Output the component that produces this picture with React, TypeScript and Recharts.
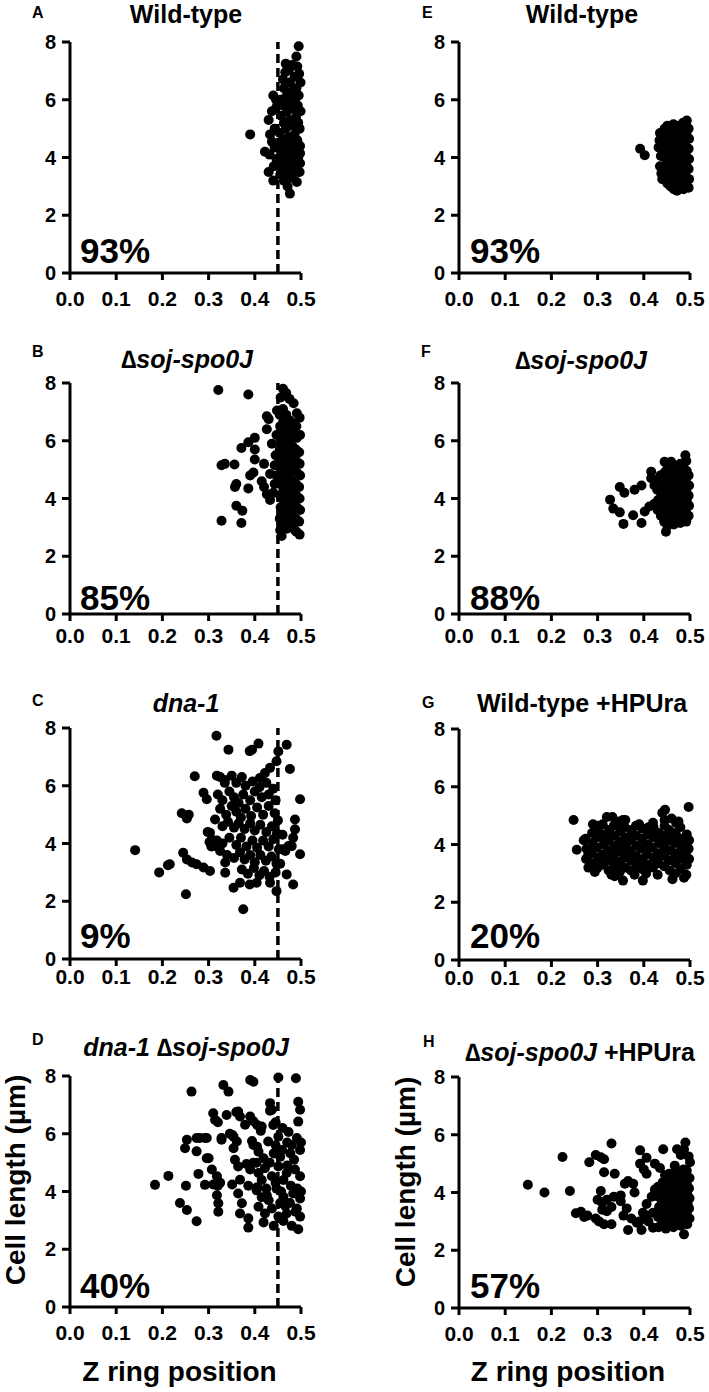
import React from 'react';
import { ScatterChart, Scatter, XAxis, YAxis, ReferenceLine } from 'recharts';

type P = [number, number];

const xTicks = [0, 0.1, 0.2, 0.3, 0.4, 0.5];
const yTicks = [0, 2, 4, 6, 8];
const dashPosition = 0.45;

const panelA: P[] = [
  [0.39,4.8],[0.422,4.2],[0.43,3.5],[0.44,3.2],[0.476,2.75],[0.44,6.15],[0.446,6.0],[0.43,5.3],[0.433,4.8],[0.437,4.55],[0.443,4.35],[0.432,4.1],[0.447,3.95],[0.437,5.6],[0.443,5.0],[0.441,3.7],[0.447,5.75],
  [0.495,7.85],[0.49,7.5],[0.481,7.2],[0.467,7.25],[0.474,7.05],[0.466,6.95],[0.492,7.15],[0.463,6.4],[0.49,6.4],[0.486,6.8],[0.496,6.9],[0.476,6.6],[0.461,6.7],[0.499,6.6],[0.48,6.25],[0.495,6.15],
  [0.463,3.2],[0.491,3.15],[0.497,3.5],[0.471,3.0],[0.48,3.3],[0.455,3.4],
  [0.455,3.75],[0.456,4.3],[0.454,4.85],[0.457,5.45],[0.455,6.0],
  [0.461,3.55],[0.462,4.05],[0.46,4.6],[0.463,5.2],[0.461,5.8],
  [0.468,3.85],[0.469,4.4],[0.467,5.0],[0.47,5.6],[0.468,6.1],[0.469,3.35],
  [0.474,3.6],[0.475,4.15],[0.473,4.7],[0.476,5.3],[0.474,5.9],
  [0.481,3.45],[0.482,3.95],[0.48,4.5],[0.483,5.1],[0.481,5.7],[0.482,6.3],
  [0.487,3.7],[0.488,4.25],[0.486,4.8],[0.489,5.4],[0.487,6.0],
  [0.493,3.5],[0.494,4.0],[0.492,4.6],[0.494,5.2],[0.493,5.8],
  [0.498,3.8],[0.498,4.4],[0.497,5.0],[0.499,5.6],[0.498,4.15],
];

const panelB: P[] = [
  [0.321,7.76],[0.386,7.6],[0.328,3.23],[0.371,3.15],[0.328,5.15],[0.335,5.2],[0.356,5.18],[0.36,4.5],[0.357,4.4],[0.36,3.75],[0.373,3.58],[0.386,4.35],[0.371,5.75],[0.386,5.95],[0.4,6.1],[0.4,5.7],[0.4,5.35],[0.39,4.8],[0.397,4.9],[0.426,6.85],[0.43,6.75],[0.426,6.4],[0.437,5.9],[0.448,7.05],[0.42,5.2],[0.415,4.6],[0.42,4.4],[0.426,4.15],[0.433,3.95],[0.443,5.15],[0.433,4.85],[0.443,4.5],[0.44,4.2],[0.447,4.8],[0.445,5.5],[0.447,6.2],
  [0.455,2.9],[0.454,3.3],[0.456,3.7],[0.455,4.1],[0.454,4.5],[0.456,4.9],[0.455,5.3],[0.454,5.7],[0.456,6.1],[0.455,6.5],[0.454,6.9],[0.456,7.5],
  [0.462,3.1],[0.461,3.5],[0.463,3.9],[0.462,4.3],[0.461,4.7],[0.463,5.1],[0.462,5.5],[0.461,5.9],[0.463,6.3],[0.462,6.7],[0.461,7.1],[0.461,7.8],
  [0.469,2.95],[0.468,3.3],[0.47,3.7],[0.469,4.1],[0.468,4.5],[0.47,4.9],[0.469,5.3],[0.468,5.7],[0.47,6.1],[0.469,6.5],[0.468,6.9],[0.468,7.65],
  [0.476,3.1],[0.475,3.5],[0.477,3.9],[0.476,4.3],[0.475,4.7],[0.477,5.1],[0.476,5.5],[0.475,5.9],[0.477,6.3],[0.476,6.7],[0.475,7.45],
  [0.483,3.0],[0.482,3.4],[0.484,3.8],[0.483,4.2],[0.482,4.6],[0.484,5.0],[0.483,5.4],[0.482,5.8],[0.484,6.2],[0.483,6.6],[0.484,7.3],
  [0.49,2.85],[0.489,3.3],[0.491,3.7],[0.49,4.1],[0.489,4.5],[0.491,4.9],[0.49,5.3],[0.489,5.7],[0.491,6.1],[0.49,6.5],[0.491,6.95],
  [0.497,2.75],[0.496,3.2],[0.498,3.6],[0.497,4.0],[0.496,4.4],[0.498,4.8],[0.497,5.2],[0.496,5.6],[0.498,6.2],[0.497,6.8],
  [0.458,2.7],[0.487,2.9],[0.48,3.15],
];

const panelC: P[] = [
  [0.141,3.77],[0.193,3.0],[0.212,3.25],[0.251,2.24],[0.242,5.05],[0.253,4.87],[0.257,5.0],[0.27,6.33],
  [0.245,3.68],[0.253,3.45],[0.264,3.34],[0.274,3.28],[0.289,3.17],[0.303,3.05],[0.216,3.28],
  [0.317,7.73],[0.343,7.25],[0.389,7.2],[0.394,7.25],[0.408,7.46],[0.469,7.42],[0.451,7.19],[0.447,6.85],[0.476,6.58],[0.498,5.53],
  [0.433,6.62],[0.422,6.44],[0.411,6.27],[0.289,5.76],[0.296,5.53],[0.314,4.83],[0.303,4.37],[0.307,4.14],[0.314,3.91],[0.325,3.74],[0.336,3.34],[0.336,2.99],
  [0.375,1.72],[0.354,2.47],[0.368,2.64],[0.389,2.58],[0.404,2.64],[0.433,2.64],[0.447,2.35],[0.469,2.93],[0.483,2.58],[0.498,3.63],
  [0.487,4.83],[0.487,4.49],[0.483,4.2],[0.48,3.91],[0.473,3.91],[0.466,3.74],[0.298,4.4],[0.302,4.05],[0.306,3.9],[0.318,6.35],[0.335,6.1],
  [0.325,6.3],[0.335,6.2],[0.35,6.35],[0.36,6.1],[0.372,6.3],[0.38,6.0],[0.395,6.15],[0.41,5.95],[0.425,6.1],[0.44,5.9],
  [0.32,5.7],[0.33,5.5],[0.345,5.8],[0.355,5.6],[0.365,5.4],[0.375,5.7],[0.39,5.5],[0.4,5.8],[0.415,5.6],[0.43,5.7],[0.445,5.5],
  [0.325,5.2],[0.338,5.0],[0.35,5.3],[0.36,5.1],[0.37,4.9],[0.38,5.2],[0.392,4.95],[0.405,5.25],[0.418,5.0],[0.43,5.3],[0.443,5.05],[0.45,4.8],
  [0.33,4.6],[0.342,4.75],[0.355,4.55],[0.365,4.7],[0.378,4.5],[0.39,4.7],[0.4,4.45],[0.412,4.65],[0.425,4.4],[0.437,4.6],[0.448,4.35],
  [0.318,4.1],[0.33,4.0],[0.345,4.2],[0.36,3.95],[0.37,4.2],[0.382,3.9],[0.395,4.1],[0.405,3.85],[0.418,4.1],[0.43,3.9],[0.44,4.15],[0.452,3.8],
  [0.34,3.6],[0.355,3.5],[0.368,3.7],[0.378,3.45],[0.39,3.6],[0.4,3.35],[0.412,3.6],[0.424,3.4],[0.436,3.55],[0.447,3.3],
  [0.372,3.1],[0.385,2.95],[0.398,3.15],[0.41,2.9],[0.42,3.05],[0.432,2.85],[0.445,3.0],[0.455,3.3],[0.46,3.8],[0.46,4.3],
];

const panelD: P[] = [
  [0.263,7.46],[0.253,5.79],[0.274,5.85],[0.292,5.85],[0.249,5.5],[0.274,5.39],[0.296,5.15],[0.213,4.54],[0.184,4.23],[0.251,4.2],[0.278,4.61],[0.292,4.23],[0.238,3.6],[0.253,3.36],[0.274,2.97],
  [0.39,7.86],[0.397,7.8],[0.332,7.69],[0.343,7.46],[0.451,7.95],[0.489,7.92],[0.433,7.06],[0.437,6.83],[0.494,7.11],[0.498,6.83],[0.494,6.42],
  [0.31,6.71],[0.314,6.48],[0.339,6.65],[0.364,6.77],[0.368,6.6],[0.39,6.6],[0.397,6.43],[0.379,6.31],[0.415,6.25],
  [0.281,5.85],[0.296,5.85],[0.328,5.79],[0.351,5.96],[0.361,5.73],[0.429,5.73],[0.451,5.9],[0.473,6.06],[0.491,5.85],
  [0.3,5.15],[0.354,5.5],[0.357,5.1],[0.364,4.87],[0.397,5.61],[0.408,5.38],[0.419,5.15],[0.441,5.32],[0.459,5.44],[0.477,5.32],[0.498,5.44],
  [0.307,4.76],[0.318,4.53],[0.31,4.24],[0.351,4.24],[0.368,4.41],[0.39,4.76],[0.408,4.64],[0.422,4.81],[0.437,4.53],[0.451,4.87],[0.469,4.64],[0.487,4.76],[0.498,4.53],
  [0.318,3.87],[0.321,3.59],[0.321,3.3],[0.364,3.93],[0.372,3.59],[0.404,4.04],[0.426,3.87],[0.447,4.1],[0.462,3.82],[0.483,3.93],[0.498,3.76],
  [0.368,3.24],[0.386,3.07],[0.386,2.75],[0.408,3.47],[0.422,3.24],[0.437,3.41],[0.451,3.13],[0.469,3.24],[0.491,3.41],[0.498,3.13],
  [0.419,2.93],[0.441,2.81],[0.462,2.98],[0.48,2.81],[0.494,2.69],
  [0.404,5.0],[0.415,4.4],[0.425,4.1],[0.432,5.0],[0.445,5.6],[0.455,5.2],[0.462,4.4],[0.47,4.9],[0.478,4.2],[0.485,5.1],[0.492,4.1],[0.445,4.3],[0.455,3.6],[0.466,3.5],[0.476,3.6],[0.488,3.3],[0.46,6.2],[0.48,5.6],[0.445,6.4],[0.43,3.7],[0.415,3.8],[0.47,5.7],[0.457,4.0],[0.5,4.0],[0.5,5.7],
  [0.382,4.95],[0.397,5.0],[0.386,4.2],[0.405,4.15],[0.44,6.3],[0.433,6.8],[0.405,6.3],[0.413,6.1],[0.394,5.75],[0.405,5.55],[0.325,4.3],[0.32,4.2],[0.32,6.4],[0.328,5.85],[0.346,6.0],[0.354,5.9],[0.36,6.75],
];

const panelE: P[] = [
  [0.392,4.3],[0.402,4.08],
  [0.435,4.85],[0.432,4.35],[0.435,3.7],[0.44,3.25],[0.437,4.05],[0.434,4.6],[0.438,3.45],
  [0.444,3.3],[0.443,3.65],[0.445,4.0],[0.444,4.35],[0.443,4.7],[0.445,5.0],
  [0.451,3.1],[0.45,3.45],[0.452,3.8],[0.451,4.15],[0.45,4.5],[0.452,4.85],[0.451,5.1],
  [0.458,3.0],[0.457,3.3],[0.459,3.65],[0.458,4.0],[0.457,4.35],[0.459,4.7],[0.458,5.05],
  [0.465,2.9],[0.464,3.2],[0.466,3.55],[0.465,3.9],[0.464,4.25],[0.466,4.6],[0.465,4.95],[0.464,5.15],
  [0.472,2.85],[0.471,3.15],[0.473,3.5],[0.472,3.85],[0.471,4.2],[0.473,4.55],[0.472,4.9],[0.471,5.1],
  [0.479,2.95],[0.478,3.3],[0.48,3.65],[0.479,4.0],[0.478,4.35],[0.48,4.7],[0.479,5.05],
  [0.486,2.9],[0.485,3.2],[0.487,3.55],[0.486,3.9],[0.485,4.25],[0.487,4.6],[0.486,4.95],[0.485,5.2],
  [0.492,3.0],[0.491,3.35],[0.493,3.7],[0.492,4.05],[0.491,4.4],[0.493,4.75],[0.492,5.1],[0.493,5.28],
  [0.497,2.95],[0.498,3.25],[0.497,3.6],[0.498,3.95],[0.497,4.3],[0.498,4.65],[0.497,5.0],
];

const panelF: P[] = [
  [0.327,3.96],[0.334,3.65],[0.348,3.52],[0.356,3.12],[0.348,4.4],[0.358,4.2],[0.38,4.3],[0.395,4.45],[0.377,3.42],[0.395,3.15],[0.402,3.55],[0.412,3.72],[0.423,3.82],[0.416,4.93],[0.416,4.7],[0.423,4.45],[0.445,5.27],[0.459,5.27],[0.49,5.5],[0.448,2.85],
  [0.43,3.6],[0.431,3.95],[0.429,4.3],[0.43,4.65],
  [0.437,3.4],[0.436,3.75],[0.438,4.1],[0.437,4.45],[0.436,4.8],
  [0.444,3.2],[0.443,3.5],[0.445,3.85],[0.444,4.2],[0.443,4.55],[0.445,4.9],
  [0.451,3.05],[0.45,3.35],[0.452,3.7],[0.451,4.05],[0.45,4.4],[0.452,4.75],[0.451,5.05],
  [0.458,3.2],[0.457,3.55],[0.459,3.9],[0.458,4.25],[0.457,4.6],[0.459,4.95],
  [0.465,3.1],[0.464,3.45],[0.466,3.8],[0.465,4.15],[0.464,4.5],[0.466,4.85],[0.465,5.15],
  [0.472,3.25],[0.471,3.6],[0.473,3.95],[0.472,4.3],[0.471,4.65],[0.473,5.0],
  [0.479,3.15],[0.478,3.5],[0.48,3.85],[0.479,4.2],[0.478,4.55],[0.48,4.9],[0.479,5.2],
  [0.486,3.3],[0.485,3.65],[0.487,4.0],[0.486,4.35],[0.485,4.7],[0.487,5.05],
  [0.492,3.2],[0.491,3.55],[0.493,3.9],[0.492,4.25],[0.491,4.6],[0.493,4.95],[0.492,5.3],
  [0.497,3.4],[0.498,3.75],[0.497,4.1],[0.498,4.45],[0.497,4.8],
];

const panelG: P[] = [
  [0.248,4.85],[0.497,5.3],[0.446,5.2],[0.44,5.1],
  [0.255,3.82],[0.29,4.7],[0.27,4.15],[0.32,4.95],[0.332,4.95],[0.355,4.85],[0.355,2.75],[0.337,2.9],[0.398,2.75],[0.405,3.0],[0.462,2.8],[0.487,2.85],[0.28,3.2],[0.294,3.05],[0.475,4.8],[0.46,4.9],[0.39,4.7],[0.41,4.6],
  [0.275,3.5],[0.276,3.85],[0.274,4.2],
  [0.288,3.35],[0.287,3.7],[0.289,4.05],[0.288,4.4],
  [0.3,3.2],[0.301,3.55],[0.299,3.9],[0.3,4.25],[0.301,4.55],
  [0.312,3.3],[0.311,3.65],[0.313,4.0],[0.312,4.35],[0.311,4.7],
  [0.324,3.1],[0.325,3.45],[0.323,3.8],[0.324,4.15],[0.325,4.5],
  [0.336,3.25],[0.335,3.6],[0.337,3.95],[0.336,4.3],[0.335,4.65],
  [0.348,3.05],[0.349,3.4],[0.347,3.75],[0.348,4.1],[0.349,4.45],[0.347,4.8],
  [0.36,3.2],[0.359,3.55],[0.361,3.9],[0.36,4.25],[0.359,4.6],
  [0.372,3.1],[0.373,3.45],[0.371,3.8],[0.372,4.15],[0.373,4.5],
  [0.384,3.25],[0.383,3.6],[0.385,3.95],[0.384,4.3],[0.383,4.65],
  [0.396,3.15],[0.397,3.5],[0.395,3.85],[0.396,4.2],[0.397,4.55],
  [0.408,3.3],[0.407,3.65],[0.409,4.0],[0.408,4.35],
  [0.42,3.2],[0.421,3.55],[0.419,3.9],[0.42,4.25],[0.421,4.6],
  [0.432,3.35],[0.431,3.7],[0.433,4.05],[0.432,4.4],
  [0.444,3.25],[0.445,3.6],[0.443,3.95],[0.444,4.3],[0.445,4.65],
  [0.456,3.1],[0.455,3.45],[0.457,3.8],[0.456,4.15],[0.455,4.5],
  [0.468,3.0],[0.469,3.35],[0.467,3.7],[0.468,4.05],[0.469,4.4],
  [0.48,3.15],[0.479,3.5],[0.481,3.85],[0.48,4.2],[0.479,4.6],
  [0.492,2.95],[0.493,3.3],[0.491,3.65],[0.492,4.0],[0.493,4.35],
  [0.498,3.5],[0.497,3.85],[0.498,4.15],
  [0.28,3.65],[0.294,3.9],[0.306,3.4],[0.318,4.2],[0.33,3.7],[0.342,3.3],[0.354,4.0],[0.366,3.65],[0.378,4.3],[0.39,3.4],[0.402,3.9],[0.414,4.5],[0.426,3.5],[0.438,4.2],[0.45,3.8],[0.462,4.3],[0.474,3.6],[0.486,4.1],
  [0.35,4.6],[0.38,2.95],[0.43,2.95],[0.445,4.85],[0.47,4.75],[0.33,2.95],[0.3,4.65],[0.36,4.85],[0.42,4.75],
];

const panelH: P[] = [
  [0.149,4.27],[0.185,4.0],[0.224,5.23],[0.24,4.05],[0.253,3.28],[0.264,3.33],[0.271,3.15],[0.278,3.2],[0.282,5.05],[0.296,5.3],[0.307,5.22],[0.314,5.15],[0.33,5.7],[0.314,4.7],[0.337,4.65],
  [0.296,3.1],[0.303,3.0],[0.314,2.9],[0.33,2.9],[0.307,4.05],[0.3,3.75],[0.31,3.65],[0.32,3.75],[0.335,3.85],[0.35,3.9],[0.31,3.4],[0.32,3.35],[0.33,3.5],
  [0.359,4.3],[0.366,4.4],[0.377,4.3],[0.38,4.0],[0.35,3.7],[0.363,3.45],[0.366,2.7],[0.356,3.2],[0.373,3.1],[0.385,2.95],
  [0.392,5.46],[0.406,5.2],[0.392,5.0],[0.4,4.8],[0.406,4.65],[0.395,2.7],[0.42,2.78],[0.406,3.2],[0.406,3.6],[0.417,3.85],[0.424,4.1],
  [0.442,5.5],[0.424,5.0],[0.435,4.85],[0.446,4.6],[0.49,5.73],[0.487,5.5],[0.472,5.5],[0.48,5.3],[0.497,5.25],[0.5,5.05],[0.487,2.55],
  [0.398,3.3],[0.39,3.0],[0.41,3.0],[0.42,3.3],[0.467,4.93],[0.493,4.75],
  [0.432,2.8],[0.431,3.15],[0.433,3.5],[0.432,3.85],[0.431,4.2],
  [0.44,2.95],[0.441,3.3],[0.439,3.65],[0.44,4.0],[0.441,4.35],
  [0.448,2.75],[0.447,3.1],[0.449,3.45],[0.448,3.8],[0.447,4.15],[0.449,4.5],
  [0.456,2.9],[0.457,3.25],[0.455,3.6],[0.456,3.95],[0.457,4.3],[0.455,4.65],
  [0.464,2.8],[0.463,3.15],[0.465,3.5],[0.464,3.85],[0.463,4.2],[0.465,4.55],
  [0.472,2.95],[0.473,3.3],[0.471,3.65],[0.472,4.0],[0.473,4.35],[0.471,4.7],
  [0.48,2.85],[0.479,3.2],[0.481,3.55],[0.48,3.9],[0.479,4.25],[0.481,4.6],
  [0.487,3.0],[0.488,3.35],[0.486,3.7],[0.487,4.05],[0.488,4.4],[0.486,4.8],
  [0.494,2.9],[0.493,3.25],[0.495,3.6],[0.494,3.95],[0.493,4.3],
  [0.499,3.1],[0.498,3.45],[0.499,3.8],[0.498,4.15],[0.499,4.5],
];

const FONT = '"Liberation Sans", Arial, sans-serif';
const PW = 231;
const PH = 231;

type PanelCfg = {
  pts: P[];
  dashed: boolean;
  axisX: number;
  plotTop: number;
  tickGap: number;
};

const Dot = (props: any) => <circle cx={props.cx} cy={props.cy} r={5} fill="#000" />;

function Panel({ pts, dashed, axisX, plotTop, tickGap }: PanelCfg) {
  const data = pts.map(([x, y]) => ({ x, y }));
  return (
    <div style={{ position: 'absolute', left: axisX - 60, top: plotTop - 10 }}>
      <ScatterChart width={60 + PW + 20} height={10 + PH + 40} margin={{ top: 10, right: 20, bottom: 0, left: 0 }}>
        <XAxis
          type="number"
          dataKey="x"
          domain={[0, 0.5]}
          ticks={xTicks}
          height={40}
          tickFormatter={(v: number) => v.toFixed(1)}
          axisLine={{ stroke: '#000', strokeWidth: 3 }}
          tickLine={{ stroke: '#000', strokeWidth: 3 }}
          tickSize={7}
          tickMargin={tickGap - 7}
          tick={{ fill: '#000', fontSize: 21, fontWeight: 'bold', fontFamily: FONT }}
          interval={0}
        />
        <YAxis
          type="number"
          dataKey="y"
          domain={[0, 8]}
          ticks={yTicks}
          width={60}
          axisLine={{ stroke: '#000', strokeWidth: 3 }}
          tickLine={{ stroke: '#000', strokeWidth: 3 }}
          tickSize={8}
          tickMargin={6}
          tick={{ fill: '#000', fontSize: 20, fontWeight: 'bold', fontFamily: FONT }}
          interval={0}
        />
        {dashed && (
          <ReferenceLine x={dashPosition} stroke="#000" strokeWidth={3.5} strokeDasharray="9 5" />
        )}
        <Scatter data={data} fill="#000" isAnimationActive={false} shape={Dot} />
      </ScatterChart>
    </div>
  );
}

export default function App() {
  const L = 70;
  const R = 459;
  return (
    <div style={{ position: 'absolute', left: 0, top: 0, width: 709, height: 1392, background: '#fff', fontFamily: FONT }}>
      <Panel pts={panelA} dashed axisX={L} plotTop={41.7} tickGap={18} />
      <Panel pts={panelB} dashed axisX={L} plotTop={382.7} tickGap={14} />
      <Panel pts={panelC} dashed axisX={L} plotTop={728.3} tickGap={10} />
      <Panel pts={panelD} dashed axisX={L} plotTop={1076} tickGap={18} />
      <Panel pts={panelE} dashed={false} axisX={R} plotTop={41.7} tickGap={18} />
      <Panel pts={panelF} dashed={false} axisX={R} plotTop={382.7} tickGap={14} />
      <Panel pts={panelG} dashed={false} axisX={R} plotTop={729.3} tickGap={10} />
      <Panel pts={panelH} dashed={false} axisX={R} plotTop={1076.7} tickGap={18} />
      <svg width={709} height={1392} style={{ position: 'absolute', left: 0, top: 0, pointerEvents: 'none' }} fontFamily={FONT} fontWeight="bold" fill="#000">
        <g fontSize={16}>
          <text x={32} y={18.3}>A</text>
          <text x={32} y={356.7}>B</text>
          <text x={32} y={706}>C</text>
          <text x={32} y={1045}>D</text>
          <text x={422} y={18.3}>E</text>
          <text x={421} y={356.7}>F</text>
          <text x={422} y={708.3}>G</text>
          <text x={423} y={1046.7}>H</text>
        </g>
        <g fontSize={25} textAnchor="middle">
          <text x={186} y={22.5}>Wild-type</text>
          <text x={187} y={368}><tspan fontStyle="italic">∆soj-spo0J</tspan></text>
          <text x={186} y={712}><tspan fontStyle="italic">dna-1</tspan></text>
          <text x={186} y={1056}><tspan fontStyle="italic">dna-1 ∆soj-spo0J</tspan></text>
          <text x={582} y={22.5}>Wild-type</text>
          <text x={581} y={369}><tspan fontStyle="italic">∆soj-spo0J</tspan></text>
          <text x={582} y={712}>Wild-type +HPUra</text>
          <text x={580} y={1061}><tspan fontStyle="italic">∆soj-spo0J</tspan> +HPUra</text>
        </g>
        <g fontSize={35}>
          <text x={80} y={263}>93%</text>
          <text x={80} y={610}>85%</text>
          <text x={80} y={948}>9%</text>
          <text x={80} y={1298}>40%</text>
          <text x={470} y={263}>93%</text>
          <text x={470} y={610}>88%</text>
          <text x={470} y={948}>20%</text>
          <text x={470} y={1298}>57%</text>
        </g>
        <g fontSize={28} textAnchor="middle">
          <text x={179.5} y={1381}>Z ring position</text>
          <text x={568} y={1381}>Z ring position</text>
          <text transform="translate(25,1180) rotate(-90)">Cell length (µm)</text>
          <text transform="translate(415,1182) rotate(-90)">Cell length (µm)</text>
        </g>
      </svg>
    </div>
  );
}
